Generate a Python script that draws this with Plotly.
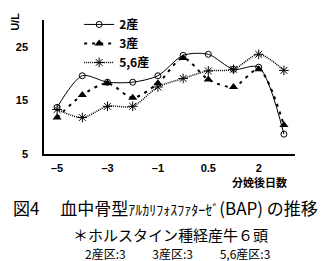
import plotly.graph_objects as go

days = ["-5", "-4", "-3", "-2", "-1", "0", "0.5", "1", "2", "3"]
tick_days = ["-5", "-3", "-1", "0.5", "2"]
tick_text = ["\u20135", "\u20133", "\u20131", "0.5", "2"]
parity2 = [13.7, 19.6, 18.4, 18.4, 19.6, 23.4, 23.6, 20.8, 21.2, 8.7]
parity3 = [11.8, 16.0, 18.2, 15.5, 18.2, 22.9, 18.9, 17.5, 20.8, 10.4]
parity56 = [13.3, 11.8, 13.9, 13.9, 17.5, 19.1, 20.5, 20.8, 23.6, 20.6]
names = ["2産", "3産", "5,6産"]

JP = "Noto Sans CJK JP"
fig = go.Figure()
fig.add_trace(go.Scatter(
    x=days, y=parity2, name=names[0], mode="lines+markers",
    line=dict(color="black", width=1, shape="spline", smoothing=0.8),
    marker=dict(symbol="circle-open", size=6, color="black", line=dict(width=1)),
))
fig.add_trace(go.Scatter(
    x=days, y=parity3, name=names[1], mode="lines+markers",
    line=dict(color="black", width=2, dash="3px,5px", shape="spline", smoothing=0.8),
    marker=dict(symbol="triangle-up", size=8, color="black"),
))
fig.add_trace(go.Scatter(
    x=days, y=parity56, name=names[2], mode="lines+markers",
    line=dict(color="black", width=1.5, dash="1px,1px", shape="spline", smoothing=0.8),
    marker=dict(symbol="asterisk-open", size=8, color="black", line=dict(width=1, color="black")),
))

fig.update_layout(
    width=330, height=261,
    margin=dict(l=44, r=35, t=10, b=107),
    paper_bgcolor="white", plot_bgcolor="white",
    showlegend=True,
    legend=dict(x=0.14, y=1.075, xanchor="left", yanchor="top",
                bgcolor="rgba(0,0,0,0)", font=dict(family=JP, size=12, color="black", weight="bold"),
                tracegroupgap=0),
    font=dict(family=JP, color="black"),
)
fig.update_xaxes(
    type="category", categoryorder="array", categoryarray=days,
    range=[-0.52, 9.44], tickmode="array", tickvals=tick_days, ticktext=tick_text,
    showgrid=False, zeroline=False, showline=True, linecolor="black", linewidth=1.5,
    ticks="", ticklabelstandoff=3,
    tickfont=dict(family="Liberation Sans", size=11, color="black", weight="bold"),
)
fig.update_yaxes(
    range=[5, 30], tickvals=[5, 15, 25],
    showgrid=False, zeroline=False, showline=True, linecolor="black", linewidth=1.5,
    ticks="", ticklabelstandoff=12,
    tickfont=dict(family="Liberation Sans", size=11, color="black", weight="bold"),
)

def px(xp):
    return (xp - 44) / 251.0

def py(yp):
    return (154 - yp) / 144.0

def note(x, y, text, font, yanchor="middle"):
    fig.add_annotation(x=px(x), y=py(y), xref="paper", yref="paper", text=text,
                       xanchor="center", yanchor=yanchor, showarrow=False, font=font)

note(15, 12, "<b>U/L</b>", dict(family="Liberation Sans", size=11, color="black"))
fig.layout.annotations[-1].textangle = -90
note(259, 184, "<b>分娩後日数</b>", dict(family=JP, size=11, color="black"))
note(165, 211, "図4　 血中骨型<span style='font-size:14px'>ｱﾙｶﾘﾌｫｽﾌｧﾀｰｾﾞ</span>(BAP) の推移",
     dict(family=JP, size=17, color="black"))
note(170, 240, "＊ホルスタイン種経産牛６頭", dict(family=JP, size=15, color="black"))
note(177, 261, "2産区:3　　 3産区:3　　 5,6産区:3", dict(family=JP, size=12, color="black"))

fig.write_html("out.html")
